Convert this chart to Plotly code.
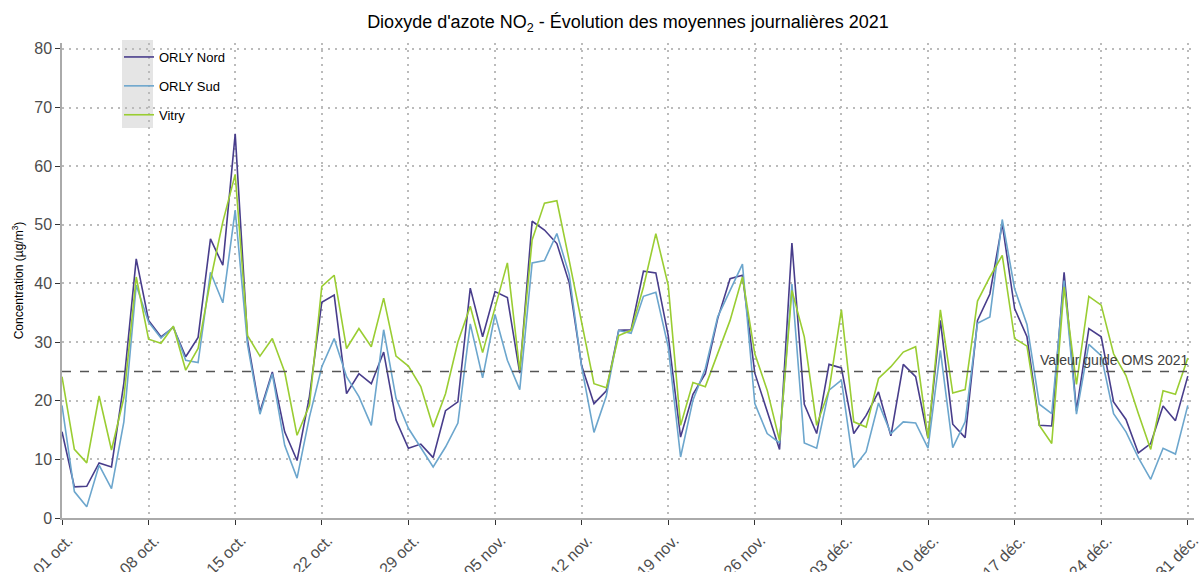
import pandas as pd
import plotly.graph_objects as go

dates = pd.date_range("2021-10-01", "2021-12-31", freq="D")

orly_nord = [14.7, 5.3, 5.4, 9.4, 8.7, 23.0, 44.2, 33.7, 30.9, 32.5, 27.5, 30.8, 47.6, 43.1, 65.5, 30.3,
             18.1, 24.9, 14.7, 9.8, 20.7, 36.8, 38.0, 21.2, 24.6, 22.9, 28.3, 16.7, 11.9, 12.6, 10.3,
             18.3, 19.8, 39.2, 30.9, 38.6, 37.6, 24.7, 50.6, 49.1, 46.8, 40.1, 26.0, 19.5, 21.7, 32.0,
             32.1, 42.1, 41.8, 31.1, 13.8, 21.1, 24.6, 34.0, 40.8, 41.4, 24.7, 18.4, 11.7, 46.9, 19.4,
             14.4, 26.2, 25.6, 14.4, 17.5, 21.5, 14.0, 26.2, 24.1, 13.6, 33.7, 16.0, 13.7, 33.7, 38.2,
             50.2, 35.7, 30.9, 15.8, 15.7, 41.9, 18.3, 32.3, 30.9, 19.8, 16.8, 11.1, 12.7, 19.1, 16.6, 24.2]

orly_sud = [19.2, 4.5, 1.9, 9.0, 5.0, 16.4, 39.7, 33.4, 30.7, 32.6, 26.9, 26.5, 41.9, 36.7, 52.5, 29.5,
            17.7, 24.6, 12.4, 6.8, 17.2, 25.8, 30.6, 24.1, 20.7, 15.8, 32.1, 20.4, 15.3, 11.9, 8.7,
            12.1, 16.2, 33.1, 23.9, 34.7, 26.9, 21.9, 43.5, 43.9, 48.5, 41.5, 25.8, 14.6, 20.8, 32.0,
            31.5, 37.8, 38.5, 29.2, 10.4, 20.1, 25.5, 34.3, 38.8, 43.3, 19.5, 14.4, 12.8, 39.9, 12.8,
            11.9, 21.8, 23.5, 8.6, 11.3, 19.6, 14.4, 16.4, 16.2, 11.9, 28.6, 12.0, 16.4, 33.2, 34.3,
            50.9, 39.1, 33.0, 19.4, 17.8, 40.5, 17.7, 29.6, 27.7, 17.8, 14.7, 10.3, 6.6, 11.9, 10.9, 19.2]

vitry = [24.1, 11.7, 9.4, 20.8, 11.6, 20.5, 41.1, 30.5, 29.8, 32.7, 25.2, 28.9, 40.5, 50.5, 58.6, 31.1,
         27.6, 30.6, 24.9, 14.1, 19.2, 39.5, 41.4, 28.9, 32.3, 29.2, 37.5, 27.6, 25.9, 22.4, 15.5,
         21.2, 30.0, 36.1, 28.2, 36.0, 43.5, 25.2, 47.4, 53.7, 54.1, 43.9, 33.1, 22.9, 22.2, 31.1,
         32.0, 39.4, 48.5, 39.7, 15.8, 23.1, 22.4, 28.0, 33.7, 41.1, 28.0, 21.8, 13.2, 38.8, 30.9,
         15.8, 21.8, 35.5, 16.4, 15.5, 23.8, 25.8, 28.3, 29.2, 13.6, 35.5, 21.3, 21.9, 37.0, 41.1,
         44.8, 30.6, 29.3, 15.8, 12.7, 39.4, 22.8, 37.8, 36.3, 28.0, 24.3, 17.8, 11.7, 21.7, 21.1, 27.3]

series_names = ["ORLY Nord", "ORLY Sud", "Vitry"]
series_colors = ["#483D8B", "#6CA6CD", "#9ACD32"]

tick_dates = pd.date_range("2021-10-01", "2021-12-31", freq="7D")
tick_labels = ["01 oct.", "08 oct.", "15 oct.", "22 oct.", "29 oct.", "05 nov.", "12 nov.",
               "19 nov.", "26 nov.", "03 déc.", "10 déc.", "17 déc.", "24 déc.", "31 déc."]

oms_value = 25
oms_label = "Valeur guide OMS 2021"

# layout geometry (pixels)
W, H = 1200, 572
ML, MR, MT, MB = 62, 6, 43, 54
PW, PH = W - ML - MR, H - MT - MB


def px2paper_x(px):
    return (px - ML) / PW


def px2paper_y(py):
    return (H - MB - py) / PH


fig = go.Figure()
for name, vals, col in zip(series_names, [orly_nord, orly_sud, vitry], series_colors):
    fig.add_trace(go.Scatter(x=dates, y=vals, mode="lines", name=name,
                             legendgroup=name,
                             line=dict(color=col, width=1.6)))

fig.add_hline(y=oms_value, line=dict(color="#555555", width=1.5, dash="dash"))
fig.add_annotation(x=1, xref="paper", y=oms_value, yref="y", text=oms_label,
                   showarrow=False, xanchor="right", yanchor="bottom", xshift=-3, yshift=1,
                   font=dict(size=14, color="#404040"))

# gray legend key background
fig.add_shape(type="rect", xref="paper", yref="paper",
              x0=px2paper_x(122), x1=px2paper_x(153),
              y0=px2paper_y(128), y1=px2paper_y(40),
              fillcolor="#E5E5E5", line=dict(width=0), layer="below")

grid_dash = "2px,5px"

fig.update_layout(
    width=W, height=H,
    margin=dict(l=ML, r=MR, t=MT, b=MB, autoexpand=False),
    paper_bgcolor="white", plot_bgcolor="white",
    font=dict(family="Liberation Sans, Arial, sans-serif", color="#4d4d4d"),
    title=dict(text="Dioxyde d'azote NO<sub>2</sub> - Évolution des moyennes journalières 2021",
               x=0.5, xref="paper", xanchor="center",
               y=1 - 22 / H, yref="container", yanchor="middle",
               font=dict(size=18, color="black")),
    showlegend=True,
    legend=dict(x=px2paper_x(119), y=px2paper_y(42), xanchor="left", yanchor="top",
                bgcolor="rgba(0,0,0,0)", font=dict(size=13, color="black"),
                tracegroupgap=9, itemwidth=30),
    xaxis=dict(range=[pd.Timestamp("2021-10-01"), pd.Timestamp("2021-12-31 12:00")],
               tickvals=tick_dates, ticktext=tick_labels, tickangle=-45,
               tickfont=dict(size=16, color="#4d4d4d"),
               ticklabelshift=6, ticklabeloverflow="allow",
               ticks="outside", ticklen=5, tickcolor="#333333", automargin=False,
               showgrid=True, gridcolor="#BBBBBB", griddash=grid_dash, gridwidth=1.5,
               showline=True, linecolor="#AAAAAA", linewidth=1.5, zeroline=False),
    yaxis=dict(range=[0, 81], tickvals=[0, 10, 20, 30, 40, 50, 60, 70, 80],
               tickfont=dict(size=16, color="#4d4d4d"),
               ticks="outside", ticklen=5, tickcolor="#333333", automargin=False,
               showgrid=True, gridcolor="#BBBBBB", griddash=grid_dash, gridwidth=1.5,
               showline=True, linecolor="#AAAAAA", linewidth=1.5, zeroline=False,
               title=dict(text="Concentration (µg/m<sup>3</sup>)", standoff=8,
                          font=dict(size=12, color="black"))),
)

fig.write_html("out.html", config={"displayModeBar": False},
               post_script="document.body.style.margin='0px';document.body.style.overflow='hidden';")
